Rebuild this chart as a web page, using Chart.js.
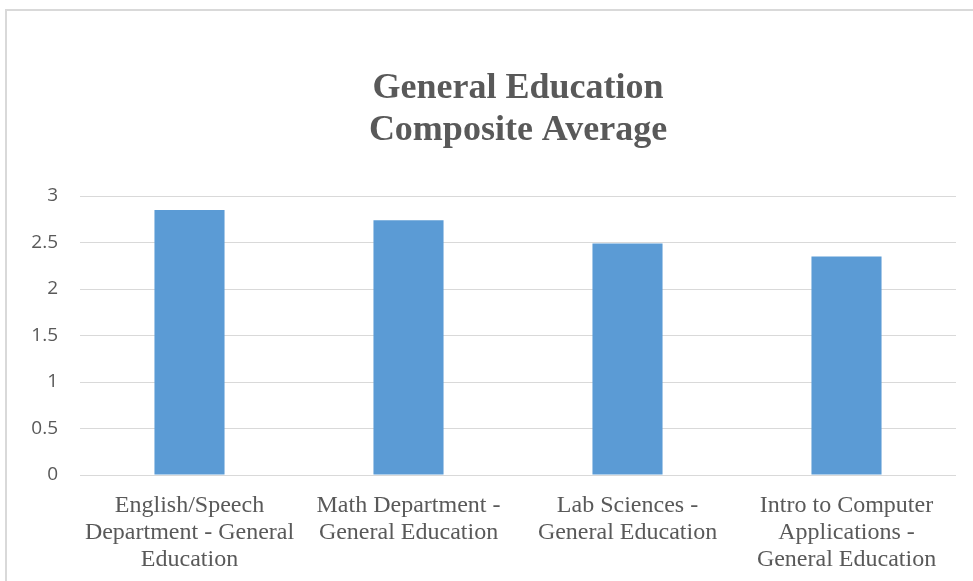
<!DOCTYPE html>
<html>
<head>
<meta charset="utf-8">
<script src="https://cdn.jsdelivr.net/npm/chart.js@4"></script>
<style>
  html, body { margin: 0; padding: 0; background: #fff; overflow: hidden; }
  #marco {
    position: absolute; left: 5px; top: 9px; width: 1000px; height: 600px;
    border-left: 2px solid #d9d9d9; border-top: 2px solid #d9d9d9;
  }
  #grafica { position: absolute; left: 0; top: 0; }
</style>
</head>
<body>
<div id="marco"></div>
<canvas id="grafica" width="973" height="581"></canvas>
<script>
// datos
const categorias = [
  ["English/Speech", "Department - General", "Education"],
  ["Math Department -", "General Education"],
  ["Lab Sciences -", "General Education"],
  ["Intro to Computer", "Applications -", "General Education"]
];
const promedios = [2.85, 2.74, 2.49, 2.35];
const titulo = ["General Education", "Composite Average"];

const GRIS = "#595959";
const AZUL = "#5B9BD5";
const SERIF = "'Liberation Serif', 'Times New Roman', serif";

new Chart(document.getElementById("grafica"), {
  type: "bar",
  data: {
    labels: categorias,
    datasets: [{
      data: promedios,
      backgroundColor: AZUL,
      borderWidth: 0,
      categoryPercentage: 1,
      barPercentage: 0.32
    }]
  },
  options: {
    responsive: false,
    devicePixelRatio: 1,
    animation: false,
    layout: { padding: { left: 0, right: 17, top: 0, bottom: 0 } },
    plugins: {
      legend: { display: false },
      tooltip: { enabled: false },
      title: {
        display: true,
        fullSize: false, // centrado sobre el área del gráfico
        text: titulo,
        color: GRIS,
        font: { family: SERIF, size: 36, weight: "bold", lineHeight: 1.167 },
        padding: { top: 68, bottom: 44 }
      }
    },
    scales: {
      y: {
        min: 0,
        max: 3,
        ticks: {
          stepSize: 0.5,
          color: GRIS,
          padding: 22,
          font: { family: "'Open Sans', 'Liberation Sans', sans-serif", size: 19 },
          callback: v => String(v)
        },
        grid: { color: "#d9d9d9", lineWidth: 1, drawTicks: false },
        border: { display: false },
        afterFit: s => { s.width = 80; }
      },
      x: {
        ticks: {
          color: GRIS,
          padding: 9,
          maxRotation: 0,
          autoSkip: false,
          font: { family: SERIF, size: 24, lineHeight: 1.13 }
        },
        grid: { display: false },
        border: { display: false },
        afterFit: s => { s.height = 106; }
      }
    }
  }
});
</script>
</body>
</html>
